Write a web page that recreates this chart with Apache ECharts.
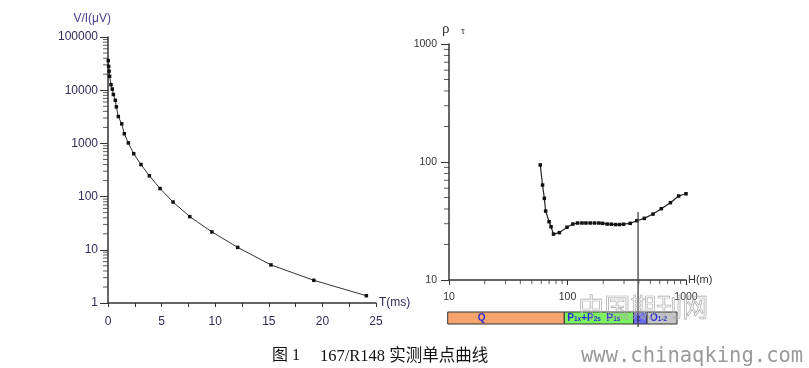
<!DOCTYPE html>
<html>
<head>
<meta charset="utf-8">
<script src="https://cdn.jsdelivr.net/npm/echarts@6/dist/echarts.min.js"></script>
<style>
html,body{margin:0;padding:0;background:#fff;}
#c{width:809px;height:368px;}
</style>
</head>
<body>
<div id="c"></div>
<script>
// ---- Left chart: V/I decay curve ----
const timeMs = [0.02, 0.06, 0.1, 0.15, 0.28, 0.4, 0.5, 0.68, 0.78, 0.96, 1.28, 1.52, 1.9, 2.4, 3.08, 3.86, 4.85, 6.07, 7.63, 9.69, 12.1, 15.2, 19.2, 24.1];
const voltPerCurrent = [36000, 28000, 22800, 18300, 12700, 10500, 8300, 6450, 4860, 3200, 2330, 1520, 1020, 640, 400, 246, 142, 79, 42, 21.7, 11.1, 5.2, 2.67, 1.37];

// ---- Right chart: apparent resistivity vs depth ----
const depthH = [58.9, 61.6, 63.8, 65.4, 69.9, 72.6, 76.2, 85.4, 99.0, 111, 121.5, 132.5, 143, 155.5, 169, 184, 198, 216, 234, 254, 274, 297, 338, 385, 445, 527, 619, 739, 867, 1000];
const rhoTau  = [94.4, 63.8, 49.2, 38.4, 31.2, 28.3, 24.5, 25.2, 28.0, 29.8, 30.4, 30.4, 30.4, 30.4, 30.4, 30.4, 30.2, 29.8, 29.7, 29.5, 29.5, 29.7, 30.2, 31.8, 33.3, 36.2, 40.2, 45.2, 51.5, 53.8];

// marker line at a depth (H, top rho, bottom rho)
const markerDepth = [[394, 37.7, 4.0]];

// strata column (top depth, bottom depth)
const strataTop    = [9.75, 94, 361, 469];
const strataBottom = [94, 361, 469, 840];
const strataLabels = ['{b|Q}', '{b|P}{s|1x}{b|+P}{s|2s}{b|  P}{s|1s}', '{s|Z}', '{b|O}{s|1-2}'];
const strataColors = ['#F5A46D', '#7CF25E', '#6C6CF0', '#C4C4C4'];

// tick labels
const leftXTicks = [0, 5, 10, 15, 20, 25];

// minor log tick positions (axis decoration)
function logMinor(fromExp, toExp) {
  const out = [];
  for (let k = fromExp; k < toExp; k++) for (let m = 2; m <= 9; m++) out.push(m * Math.pow(10, k));
  return out;
}
const leftYMinor = logMinor(0, 5);
const rightMinor = logMinor(1, 3);

const chart = echarts.init(document.getElementById('c'), null, {renderer: 'canvas'});
const axisColor = '#333';
const labelColor = '#2f2c58';
const plain = v => String(Math.round(v));

const option = {
  animation: false,
  backgroundColor: '#fff',
  grid: [
    {left: 108, top: 37, width: 268, height: 266},
    {left: 449, top: 44, width: 237, height: 236},
    {left: 449, top: 312, width: 237, height: 12}
  ],
  xAxis: [
    {
      gridIndex: 0, type: 'value', min: 0, max: 25, interval: 5,
      name: 'T(ms)', nameLocation: 'end', nameGap: 3,
      nameTextStyle: {color: labelColor, fontSize: 12, fontFamily: 'Liberation Sans', verticalAlign: 'middle'},
      axisLine: {lineStyle: {color: axisColor, width: 1.5}},
      axisTick: {length: 4, lineStyle: {color: axisColor}},
      minorTick: {show: true, splitNumber: 2, length: 4, lineStyle: {color: axisColor}},
      axisLabel: {margin: 13, color: labelColor, fontSize: 12, fontFamily: 'Liberation Sans',
        formatter: v => leftXTicks.includes(v) ? String(v) : ''},
      splitLine: {show: false}
    },
    {
      gridIndex: 1, type: 'log', logBase: 10, min: 10, max: 1000,
      name: 'H(m)', nameLocation: 'end', nameGap: 2,
      nameTextStyle: {color: '#333', fontSize: 11, fontFamily: 'Liberation Sans', verticalAlign: 'middle'},
      axisLine: {lineStyle: {color: axisColor, width: 1.5}},
      axisTick: {length: 5, lineStyle: {color: axisColor}},
      axisLabel: {margin: 12, color: '#333', fontSize: 10.5, fontFamily: 'Liberation Sans', formatter: plain},
      splitLine: {show: false}
    },
    {
      gridIndex: 2, type: 'log', logBase: 10, min: 10, max: 1000, show: false
    }
  ],
  yAxis: [
    {
      gridIndex: 0, type: 'log', logBase: 10, min: 1, max: 100000,
      name: 'V/I(μV)', nameLocation: 'end', nameGap: 12,
      nameTextStyle: {color: '#4a3f8f', fontSize: 12, fontFamily: 'Liberation Sans', align: 'right', padding: [0, -3, 0, 0]},
      axisLine: {lineStyle: {color: axisColor, width: 1.5}},
      axisTick: {length: 8, lineStyle: {color: axisColor}},
      axisLabel: {margin: 10, color: labelColor, fontSize: 12, fontFamily: 'Liberation Sans', formatter: plain},
      splitLine: {show: false}
    },
    {
      gridIndex: 1, type: 'log', logBase: 10, min: 10, max: 1000,
      axisLine: {lineStyle: {color: axisColor, width: 1.5}},
      axisTick: {length: 8, lineStyle: {color: axisColor}},
      axisLabel: {margin: 12, color: '#333', fontSize: 10.5, fontFamily: 'Liberation Sans', formatter: plain},
      splitLine: {show: false}
    },
    {
      gridIndex: 2, type: 'value', min: 0, max: 1, show: false
    }
  ],
  series: [
    {
      type: 'line', xAxisIndex: 0, yAxisIndex: 0,
      data: timeMs.map((t, i) => [t, voltPerCurrent[i]]),
      symbol: 'rect', symbolSize: 3.5, showSymbol: true,
      itemStyle: {color: '#111'}, lineStyle: {color: '#333', width: 1}, silent: true
    },
    {
      type: 'scatter', xAxisIndex: 0, yAxisIndex: 0, clip: false, silent: true,
      data: leftYMinor.map(v => [0, v]),
      symbol: 'rect', symbolSize: [5, 1], symbolOffset: [-2.5, 0], itemStyle: {color: axisColor}
    },
    {
      type: 'line', xAxisIndex: 1, yAxisIndex: 1,
      data: depthH.map((h, i) => [h, rhoTau[i]]),
      symbol: 'rect', symbolSize: 3.5, showSymbol: true,
      itemStyle: {color: '#111'}, lineStyle: {color: '#222', width: 1.2}, silent: true
    },
    {
      type: 'scatter', xAxisIndex: 1, yAxisIndex: 1, clip: false, silent: true,
      data: rightMinor.map(v => [10, v]),
      symbol: 'rect', symbolSize: [5, 1], symbolOffset: [-2.5, 0], itemStyle: {color: axisColor}
    },
    {
      type: 'scatter', xAxisIndex: 1, yAxisIndex: 1, clip: false, silent: true,
      data: rightMinor.map(v => [v, 10]),
      symbol: 'rect', symbolSize: [1, 4], symbolOffset: [0, 2], itemStyle: {color: axisColor}
    },
    {
      type: 'custom', xAxisIndex: 1, yAxisIndex: 1, clip: false, silent: true, z: 5,
      data: markerDepth,
      renderItem: function (params, api) {
        const a = api.coord([api.value(0), api.value(1)]);
        const b = api.coord([api.value(0), api.value(2)]);
        return {type: 'line', shape: {x1: a[0], y1: a[1], x2: b[0], y2: b[1]},
          style: {stroke: '#444', lineWidth: 1.3}};
      }
    },
    {
      type: 'custom', xAxisIndex: 2, yAxisIndex: 2, clip: false, silent: true, z: 3,
      data: strataTop.map((t, i) => [t, strataBottom[i], i]),
      renderItem: function (params, api) {
        const i = api.value(2);
        const p0 = api.coord([api.value(0), 1]);
        const p1 = api.coord([api.value(1), 0]);
        const w = p1[0] - p0[0], h = p1[1] - p0[1];
        const isQ = i === 0;
        return {
          type: 'group',
          children: [
            {type: 'rect', shape: {x: p0[0], y: p0[1], width: w, height: h},
              style: {fill: strataColors[i], stroke: '#333', lineWidth: 1}},
            {type: 'text', x: isQ ? p0[0] + w * 0.29 : p0[0] + 3, y: p0[1] + h / 2,
              style: {text: strataLabels[i], align: isQ ? 'center' : 'left', verticalAlign: 'middle',
                rich: {
                  b: {fontSize: 10, fontWeight: 'bold', fill: '#2b2bd8', fontFamily: 'Liberation Sans'},
                  s: {fontSize: 6.5, fontWeight: 'bold', fill: '#2b2bd8', fontFamily: 'Liberation Sans', padding: [3, 0, 0, 0]}
                }}}
          ]
        };
      }
    }
  ],
  graphic: [
    {type: 'text', left: 442, top: 22, silent: true,
      style: {text: 'ρ', font: '15px "Liberation Serif"', fill: '#333'}},
    {type: 'text', left: 461, top: 26, silent: true,
      style: {text: 'τ', font: '10px "Liberation Serif"', fill: '#333'}},
    {type: 'text', left: 578, top: 294, silent: true, z: 10,
      style: {text: '中国期刊网', font: '26px "Noto Sans CJK SC"', fill: 'rgba(255,255,255,0)', stroke: '#a8a8a8', lineWidth: 0.7}},
    {type: 'text', left: 272, top: 348, silent: true,
      style: {text: '图 1', font: '16px "Liberation Serif", "Noto Sans CJK SC"', fill: '#111'}},
    {type: 'text', left: 320, top: 348, silent: true,
      style: {text: '167/R148 实测单点曲线', font: '16.5px "Liberation Serif", "Noto Sans CJK SC"', fill: '#111'}},
    {type: 'text', left: 581, top: 346, silent: true,
      style: {text: 'www.chinaqking.com', font: '20.5px "DejaVu Sans Mono"', fill: '#9a9a9a'}}
  ]
};
chart.setOption(option);
</script>
</body>
</html>
